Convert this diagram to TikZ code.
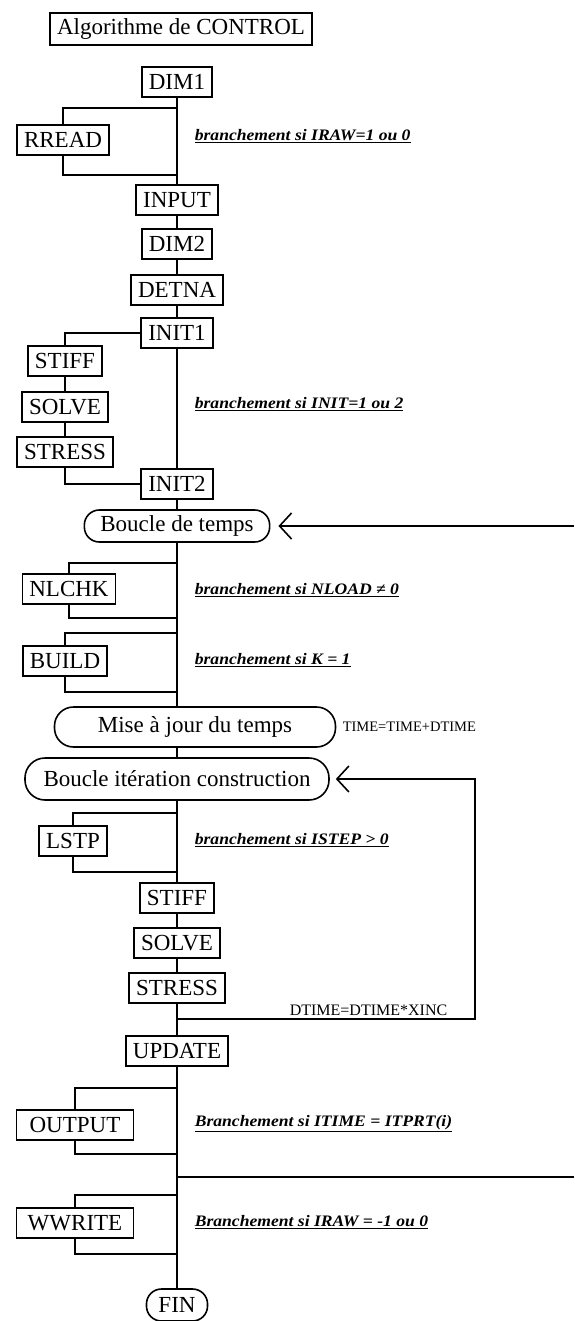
\documentclass[tikz,border=0pt]{standalone}
\usepackage{fontspec}
\setmainfont{Liberation Serif}
\newfontfamily\lblfont[FakeStretch=1.1]{Liberation Serif}
\usetikzlibrary{arrows.meta}

\begin{document}
\begin{tikzpicture}[
		x=1pt, y=-1pt, line width=1.6pt,
		prog/.style={draw, rectangle, font=\fontsize{23}{26}\selectfont, minimum height=30pt, inner xsep=7pt, inner ysep=2pt},
		loopbox/.style={prog, rounded corners=15pt, inner xsep=16pt, minimum height=32pt},
		cond/.style={anchor=west, inner sep=0pt, font=\lblfont\fontsize{16}{18}\selectfont\bfseries\itshape},
		note/.style={inner sep=0pt, font=\fontsize{14.5}{16}\selectfont},
		back/.style={-{Straight Barb[length=12pt,width=26pt]}, shorten >=8pt},
	]
	\useasboundingbox (0,0) rectangle (574,1321);

	\node[prog, minimum height=32pt] (title) at (181,29) {Algorithme de CONTROL};

	\node[prog] (dim1)   at (177,82)  {DIM1};
	\node[prog] (rread)  at (63,140)  {RREAD};
	\node[prog] (input)  at (177,200) {INPUT};
	\node[prog] (dim2)   at (177,244) {DIM2};
	\node[prog] (detna)  at (177,290) {DETNA};
	\node[prog] (init1)  at (177,333) {INIT1};
	\node[prog] (stiffa) at (65,361)  {STIFF};
	\node[prog] (solvea) at (65,407)  {SOLVE};
	\node[prog] (stressa) at (65,452) {STRESS};
	\node[prog] (init2)  at (177,484) {INIT2};

	\node[loopbox] (temps) at (177,526) {Boucle de temps};
	\node[prog] (nlchk)  at (69,589)  {NLCHK};
	\node[prog] (build)  at (65,661)  {BUILD};
	\node[loopbox, minimum width=281pt, minimum height=40pt, rounded corners=19pt] (maj) at (195,727) {Mise à jour du temps};
	\node[loopbox, minimum width=304pt, minimum height=42pt, rounded corners=20pt] (iter) at (177,779) {Boucle itération construction};
	\node[prog] (lstp)   at (73,841)  {LSTP};
	\node[prog] (stiffb) at (177,898) {STIFF};
	\node[prog] (solveb) at (177,943) {SOLVE};
	\node[prog] (stressb) at (177,988) {STRESS};
	\node[prog] (update) at (177,1051) {UPDATE};
	\node[prog, minimum width=117pt] (output) at (75,1125) {OUTPUT};
	\node[prog, minimum width=117pt] (wwrite) at (75,1223) {WWRITE};
	\node[loopbox, inner xsep=12pt] (fin) at (177,1305) {FIN};

	\node[cond] (c1) at (194,136)  {\underline{branchement si IRAW=1 ou 0}};
	\node[cond] (c2) at (194,404)  {\underline{branchement si INIT=1 ou 2}};
	\node[cond] (c3) at (194,590)  {\underline{branchement si NLOAD ≠ 0}};
	\node[cond] (c4) at (194,660)  {\underline{branchement si K = 1}};
	\node[cond] (c5) at (194,840)  {\underline{branchement si ISTEP > 0}};
	\node[cond] (c6) at (194,1124) {\underline{Branchement si ITIME = ITPRT(i)}};
	\node[cond] (c7) at (194,1222) {\underline{Branchement si IRAW = -1 ou 0}};
	\node[note, anchor=west] (t1) at (342,727) {TIME=TIME+DTIME};
	\node[note, anchor=south west, font=\fontsize{16}{18}\selectfont] (t2) at (289,1016) {DTIME=DTIME*XINC};

	\coordinate (r1) at (177,108);
	\coordinate (r2) at (177,175);
	\coordinate (n1) at (177,563);
	\coordinate (n2) at (177,618);
	\coordinate (b1) at (177,633);
	\coordinate (b2) at (177,692);
	\coordinate (l1) at (177,813);
	\coordinate (l2) at (177,872);
	\coordinate (loopa) at (177,1019);
	\coordinate (loopb) at (475,779);
	\coordinate (o1) at (177,1088);
	\coordinate (o2) at (177,1154);
	\coordinate (cut) at (177,1177);
	\coordinate (cutend) at (574,1177);
	\coordinate (w1) at (177,1195);
	\coordinate (w2) at (177,1254);
	\coordinate (tempsend) at (574,526);

	\draw (dim1) -- (input) -- (dim2) -- (detna) -- (init1) -- (init2) -- (temps);
	\draw (r1) -| (rread);
	\draw (rread) |- (r2);
	\draw (init1) -| (stiffa);
	\draw (stiffa) -- (solvea) -- (stressa);
	\draw (stressa) |- (init2);

	\draw (temps) -- (temps |- maj.north);
	\draw (temps |- maj.south) -- (iter);
	\draw (n1) -| (nlchk);
	\draw (nlchk) |- (n2);
	\draw (b1) -| (build);
	\draw (build) |- (b2);
	\draw[back] (tempsend) -- (temps);

	\draw (iter) -- (stiffb) -- (solveb) -- (stressb) -- (update) -- (fin);
	\draw (l1) -| (lstp);
	\draw (lstp) |- (l2);
	\draw[back, shorten >=6pt] (loopa) -| (loopb) -- (iter);
	\draw (o1) -| (output);
	\draw (output) |- (o2);
	\draw (cut) -- (cutend);
	\draw (w1) -| (wwrite);
	\draw (wwrite) |- (w2);
\end{tikzpicture}
\end{document}
